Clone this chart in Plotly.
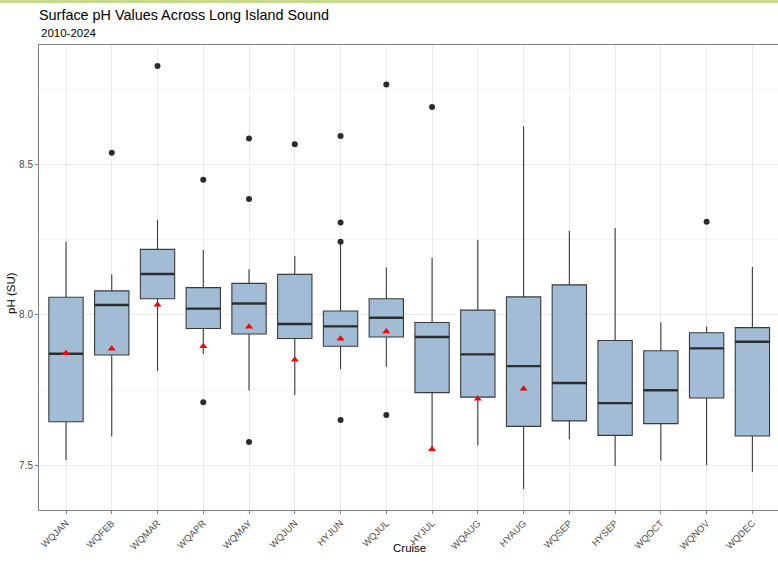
import plotly.graph_objects as go

cruises = ["WQJAN", "WQFEB", "WQMAR", "WQAPR", "WQMAY", "WQJUN", "HYJUN", "WQJUL",
           "HYJUL", "WQAUG", "HYAUG", "WQSEP", "HYSEP", "WQOCT", "WQNOV", "WQDEC"]
whisker_low = [7.518, 7.596, 7.814, 7.870, 7.749, 7.734, 7.820, 7.828,
               7.554, 7.566, 7.421, 7.586, 7.498, 7.516, 7.501, 7.479]
q1 = [7.645, 7.867, 8.054, 7.955, 7.937, 7.922, 7.896, 7.927,
      7.742, 7.727, 7.630, 7.648, 7.600, 7.639, 7.724, 7.598]
median = [7.871, 8.033, 8.136, 8.021, 8.038, 7.970, 7.962, 7.991,
          7.927, 7.869, 7.830, 7.774, 7.707, 7.750, 7.889, 7.911]
q3 = [8.059, 8.080, 8.218, 8.091, 8.105, 8.135, 8.013, 8.054,
      7.975, 8.016, 8.060, 8.100, 7.915, 7.881, 7.941, 7.958]
whisker_high = [8.244, 8.135, 8.316, 8.216, 8.152, 8.196, 8.243, 8.158,
                8.190, 8.249, 8.627, 8.279, 8.289, 7.976, 7.962, 8.159]
means = [7.873, 7.888, 8.034, 7.896, 7.961, 7.851, 7.921, 7.945,
         7.554, 7.722, 7.755, None, None, None, None, None]
outlier_cruise = ["WQFEB", "WQMAR", "WQAPR", "WQAPR", "WQMAY", "WQMAY", "WQMAY",
                  "WQJUN", "HYJUN", "HYJUN", "HYJUN", "HYJUN", "WQJUL", "WQJUL",
                  "HYJUL", "WQNOV"]
outlier_value = [8.539, 8.827, 8.449, 7.710, 8.586, 8.385, 7.578,
                 8.567, 8.595, 8.307, 8.243, 7.651, 8.766, 7.668,
                 8.691, 8.310]
y_ticks = [7.5, 8.0, 8.5]
y_minor = [7.75, 8.25, 8.75]

pos = list(range(len(cruises)))
idx = {c: i for i, c in enumerate(cruises)}
BW = 0.75
edge = "#3a3a3a"
PH = 563 - 45 - 53  # plot height in px

fig = go.Figure()
fig.add_trace(go.Box(
    x=pos, q1=q1, median=median, q3=q3,
    lowerfence=whisker_low, upperfence=whisker_high,
    width=BW, whiskerwidth=0, boxpoints=False,
    fillcolor="#a1bcd4", line=dict(color=edge, width=1.1),
    hoverinfo="skip", showlegend=False))

# thicker median lines (ggplot style)
mx, my = [], []
for i, m in zip(pos, median):
    mx += [i - BW / 2, i + BW / 2, None]
    my += [m, m, None]
fig.add_trace(go.Scatter(x=mx, y=my, mode="lines",
                         line=dict(color="#2e2e2e", width=2.4),
                         hoverinfo="skip", showlegend=False))

fig.add_trace(go.Scatter(
    x=[idx[c] for c in outlier_cruise], y=outlier_value, mode="markers",
    marker=dict(color="#2b2b2b", size=6), showlegend=False))

mpx = [i for i, m in zip(pos, means) if m is not None]
mpy = [m for m in means if m is not None]
fig.add_trace(go.Scatter(
    x=mpx, y=mpy, mode="markers",
    marker=dict(color="#ff0000", size=7, symbol="triangle-up"),
    showlegend=False))

fig.update_layout(
    width=778, height=563,
    margin=dict(l=39, r=0, t=45, b=53, autoexpand=False),
    paper_bgcolor="white", plot_bgcolor="white",
    font=dict(family="Liberation Sans, Arial, sans-serif", color="#000000"),
    title=dict(text="Surface pH Values Across Long Island Sound",
               x=39 / 778, xanchor="left", xref="container",
               y=1 - 15 / 563, yanchor="middle", yref="container",
               font=dict(size=14.4, color="#000000")),
    annotations=[
        dict(text="2010-2024", xref="paper", yref="paper",
             x=0, y=1 + 12 / PH, xanchor="left", yanchor="middle",
             showarrow=False, font=dict(size=11.5, color="#000000")),
        dict(text="Cruise", xref="paper", yref="paper",
             x=(409 - 39) / 739, y=-(548 - 510) / PH, xanchor="center", yanchor="middle",
             showarrow=False, font=dict(size=11.5, color="#000000")),
        dict(text="pH (SU)", xref="paper", yref="paper", textangle=-90,
             x=-(39 - 11) / 739, y=(510 - 293) / PH, xanchor="center", yanchor="middle",
             showarrow=False, font=dict(size=11.5, color="#000000")),
    ],
    shapes=[dict(type="rect", xref="paper", yref="paper",
                 x0=-0.1, x1=1.1, y0=1 + 42 / PH, y1=1 + 46 / PH,
                 fillcolor="#c6da8e", line=dict(width=0), layer="above")],
)
fig.update_xaxes(
    range=[-0.59, 15.56], tickmode="array", tickvals=pos, ticktext=cruises,
    tickangle=-45, tickfont=dict(size=9.5, color="#4d4d4d"), automargin=False,
    showgrid=True, gridcolor="#ebebeb", gridwidth=1,
    showline=True, linecolor="#808080", linewidth=1, mirror=True,
    ticks="outside", ticklen=3, tickcolor="#808080",
    zeroline=False)
fig.update_yaxes(
    range=[7.352, 8.897], tickmode="array", tickvals=y_ticks,
    ticktext=["7.5", "8.0", "8.5"], automargin=False,
    tickfont=dict(size=10, color="#4d4d4d"),
    showgrid=True, gridcolor="#ebebeb", gridwidth=1,
    minor=dict(tickmode="array", tickvals=y_minor, showgrid=True,
               gridcolor="#f4f4f4", gridwidth=0.6, ticks=""),
    showline=True, linecolor="#808080", linewidth=1, mirror=True,
    ticks="outside", ticklen=3, tickcolor="#808080",
    zeroline=False)

fig.write_html(
    "out.html",
    config={"displayModeBar": False},
    post_script="document.body.style.margin='0';document.body.style.overflow='hidden';")
